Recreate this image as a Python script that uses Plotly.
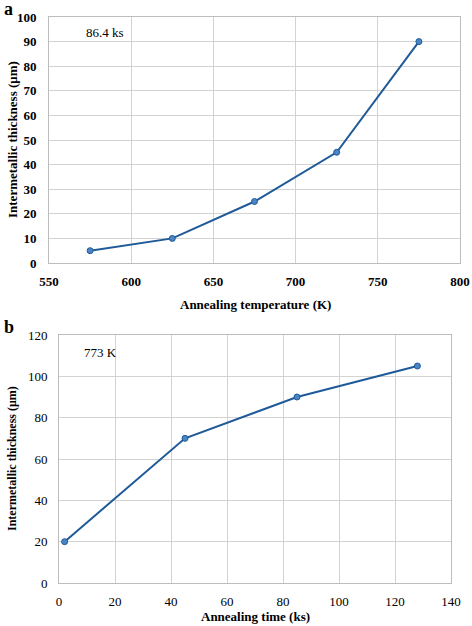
import plotly.graph_objects as go

temp_K = [575, 625, 675, 725, 775]
thick_a = [5, 10, 25, 45, 90]
time_ks = [2, 45, 85, 128]
thick_b = [20, 70, 90, 105]

W, H = 472, 626
def px(x): return x / W
def py(y): return 1 - y / H

line_c = "#1f5a98"
mark_c = "#4a86c6"
serif = "Liberation Serif, Times New Roman, serif"

fig = go.Figure()
fig.add_trace(go.Scatter(x=temp_K, y=thick_a, mode="lines+markers", xaxis="x", yaxis="y",
                         line=dict(color=line_c, width=2),
                         marker=dict(size=6, color=mark_c, line=dict(color=line_c, width=1)),
                         showlegend=False, cliponaxis=False))
fig.add_trace(go.Scatter(x=time_ks, y=thick_b, mode="lines+markers", xaxis="x2", yaxis="y2",
                         line=dict(color=line_c, width=2),
                         marker=dict(size=6, color=mark_c, line=dict(color=line_c, width=1)),
                         showlegend=False, cliponaxis=False))

grid = "#d3d3d3"
common = dict(showgrid=True, gridcolor=grid, gridwidth=1, showline=True, linecolor="#bdbdbd",
              linewidth=1, mirror=True, zeroline=False, ticks="", automargin=False)
bold_tf = dict(family=serif, size=13, color="black", weight="bold")
reg_tf = dict(family=serif, size=13, color="black", weight="normal")
fig.update_layout(
    template="none",
    font=dict(family=serif, size=13, color="black"),
    width=W, height=H, margin=dict(l=0, r=0, t=0, b=0, autoexpand=False),
    paper_bgcolor="white", plot_bgcolor="white",
    xaxis=dict(domain=[px(49), px(460)], range=[550, 800], dtick=50, anchor="y",
               tickfont=bold_tf, ticklabelstandoff=6, **common),
    yaxis=dict(domain=[py(263), py(17)], range=[0, 100], dtick=10, anchor="x",
               tickfont=bold_tf, ticklabelstandoff=9, **common),
    xaxis2=dict(domain=[px(59), px(451)], range=[0, 140], dtick=20, anchor="y2",
                tickfont=reg_tf, ticklabelstandoff=6, **common),
    yaxis2=dict(domain=[py(583), py(335)], range=[0, 120], dtick=20, anchor="x2",
                tickfont=reg_tf, ticklabelstandoff=8, **common),
)

ann = []
def A(text, x, y, size=13, bold=True, angle=0, xanchor="center"):
    ann.append(dict(text=text, x=px(x), y=py(y), xref="paper", yref="paper", showarrow=False,
                    xanchor=xanchor, yanchor="middle", textangle=angle,
                    font=dict(family=serif, size=size, color="black", weight="bold" if bold else "normal")))

A("a", 2, 9, size=18, xanchor="left")
A("b", 2, 327, size=18, xanchor="left")
A("Intermetallic thickness (μm)", 12, 140, angle=-90)
A("Intermetallic thickness (μm)", 12, 459, size=12, angle=-90)
A("Annealing temperature (K)", 255, 304)
A("Annealing time (ks)", 255, 616)
A("86.4 ks", 84, 33, size=13, bold=False, xanchor="left")
A("773 K", 82, 352, size=13, bold=False, xanchor="left")
fig.update_layout(annotations=ann)

fig.write_html("out.html", config={"displayModeBar": False},
               post_script="document.body.style.margin='0';document.body.style.overflow='hidden';")
